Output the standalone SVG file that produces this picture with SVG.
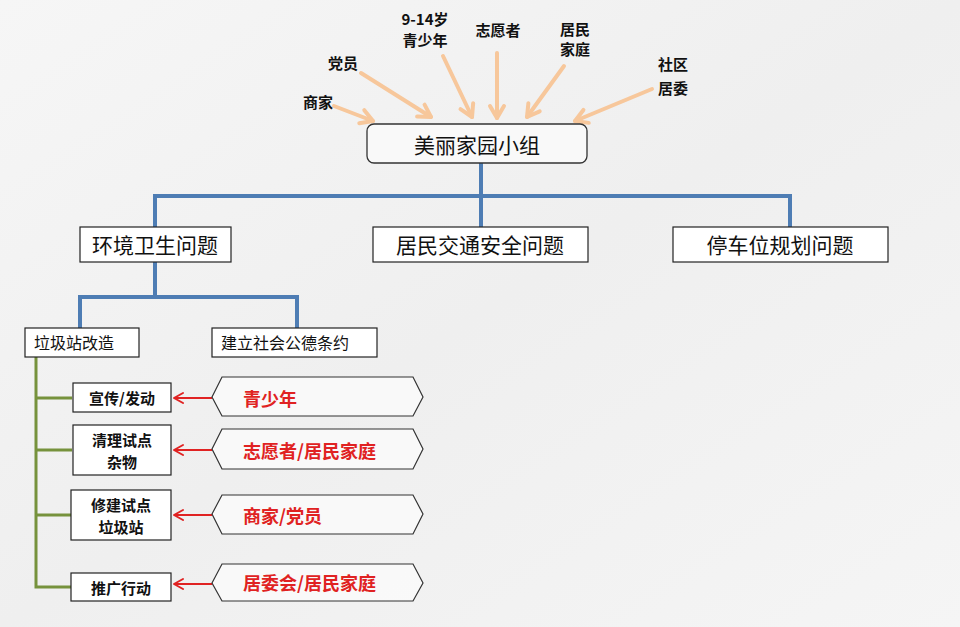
<svg xmlns="http://www.w3.org/2000/svg" width="960" height="627" viewBox="0 0 960 627">
<defs>
<linearGradient id="bg" x1="0" y1="0" x2="1" y2="1">
<stop offset="0" stop-color="#f6f6f6"/>
<stop offset="0.5" stop-color="#efefef"/>
<stop offset="1" stop-color="#f5f5f5"/>
</linearGradient>
<marker id="peach" markerUnits="userSpaceOnUse" viewBox="-16 -10 20 20" refX="0" refY="0" markerWidth="20" markerHeight="20" orient="auto">
<path d="M -12 -7 L 0 0 L -12 7" fill="none" stroke="#F7C79B" stroke-width="4" stroke-linecap="round" stroke-linejoin="round"/>
</marker>
<marker id="red" markerUnits="userSpaceOnUse" viewBox="-12 -8 16 16" refX="0" refY="0" markerWidth="16" markerHeight="16" orient="auto">
<path d="M -9 -5 L 0 0 L -9 5" fill="none" stroke="#E02222" stroke-width="2" stroke-linecap="round" stroke-linejoin="round"/>
</marker>
<style>
.t{font-family:"Noto Sans CJK SC","Noto Sans",sans-serif;fill:#111;dominant-baseline:central}
.lab{font-size:15px;font-weight:bold;text-anchor:middle}
.big{font-size:21px;text-anchor:middle}
.mid{font-size:16px}
.small{font-size:15px;font-weight:bold;text-anchor:middle}
.red{font-size:18px;font-weight:bold;fill:#E02222}
.box{fill:#ffffff;stroke:#222;stroke-width:1.2}
.hex{fill:#ffffff;fill-opacity:0.6;stroke:#333;stroke-width:1.2}
.blue{fill:none;stroke:#4E7DB4;stroke-width:4}
.green{fill:none;stroke:#76923C;stroke-width:3}
.pa{stroke:#F7C79B;stroke-width:4;stroke-linecap:round;fill:none;marker-end:url(#peach)}
.ra{stroke:#E02222;stroke-width:2;fill:none;marker-end:url(#red)}
</style>
</defs>
<rect x="0" y="0" width="960" height="627" fill="url(#bg)"/>

<g id="connectors">
<line class="pa" x1="334" y1="106" x2="373" y2="121"/>
<line class="pa" x1="361" y1="73" x2="431" y2="117"/>
<line class="pa" x1="443" y1="56" x2="472" y2="117"/>
<line class="pa" x1="497" y1="53" x2="497" y2="118"/>
<line class="pa" x1="564" y1="66" x2="527" y2="117"/>
<line class="pa" x1="652" y1="89" x2="575" y2="121"/>
<path class="blue" d="M481 163 V196 M155 229 V196 H790 V228 M481 196 V228"/>
<path class="blue" d="M155 262 V297 M80 330 V297 H297 V330"/>
<path class="green" d="M36 357 V587 H72 M36 398 H72 M36 450 H72 M36 515 H72"/>
<line class="ra" x1="212" y1="398" x2="174" y2="398"/>
<line class="ra" x1="212" y1="450" x2="174" y2="450"/>
<line class="ra" x1="212" y1="515" x2="174" y2="515"/>
<line class="ra" x1="212" y1="584" x2="174" y2="584"/>
</g>

<g id="src-shangjia"><text class="t lab" x="318" y="101">商家</text></g>
<g id="src-dangyuan"><text class="t lab" x="343" y="62">党员</text></g>
<g id="src-qingshaonian"><text class="t lab" x="425" y="18">9-14岁</text><text class="t lab" x="425" y="39">青少年</text></g>
<g id="src-zhiyuanzhe"><text class="t lab" x="498" y="29">志愿者</text></g>
<g id="src-jumin"><text class="t lab" x="575" y="28">居民</text><text class="t lab" x="575" y="48">家庭</text></g>
<g id="src-shequ"><text class="t lab" x="673" y="63">社区</text><text class="t lab" x="673" y="87">居委</text></g>

<g id="root"><rect x="367" y="124" width="220" height="39" rx="7" fill="#f9f9f9" stroke="#333" stroke-width="1.3"/><text class="t big" x="477" y="144">美丽家园小组</text></g>

<g id="n-huanjing"><rect class="box" x="80" y="227" width="151" height="35"/><text class="t big" x="155" y="244">环境卫生问题</text></g>
<g id="n-jiaotong"><rect class="box" x="373" y="227" width="215" height="35"/><text class="t big" x="480" y="244">居民交通安全问题</text></g>
<g id="n-tingche"><rect class="box" x="673" y="227" width="215" height="35"/><text class="t big" x="780" y="244">停车位规划问题</text></g>

<g id="n-lajizhan"><rect class="box" x="25" y="328" width="114" height="29"/><text class="t mid" x="34" y="342">垃圾站改造</text></g>
<g id="n-gongde"><rect class="box" x="212" y="328" width="165" height="29"/><text class="t mid" x="221" y="342">建立社会公德条约</text></g>

<g id="n-xuanchuan"><rect class="box" x="73" y="383" width="98" height="29"/><text class="t small" x="122" y="397">宣传/发动</text></g>
<g id="n-qingli"><rect class="box" x="73" y="425" width="98" height="50"/><text class="t small" x="122" y="439">清理试点</text><text class="t small" x="122" y="461">杂物</text></g>
<g id="n-xiujian"><rect class="box" x="71" y="490" width="100" height="50"/><text class="t small" x="121" y="504">修建试点</text><text class="t small" x="121" y="526">垃圾站</text></g>
<g id="n-tuiguang"><rect class="box" x="71" y="573" width="100" height="28"/><text class="t small" x="121" y="587">推广行动</text></g>

<g id="h-qingshaonian"><path class="hex" d="M212 397 L222 377 H413 L423 397 L413 416 H222 Z"/><text class="t red" x="243" y="398">青少年</text></g>
<g id="h-zhiyuan"><path class="hex" d="M212 449 L222 429 H413 L423 449 L413 469 H222 Z"/><text class="t red" x="243" y="450">志愿者/居民家庭</text></g>
<g id="h-shangjia"><path class="hex" d="M212 514 L222 495 H413 L423 514 L413 534 H222 Z"/><text class="t red" x="243" y="515">商家/党员</text></g>
<g id="h-juweihui"><path class="hex" d="M212 583 L222 564 H413 L423 583 L413 601 H222 Z"/><text class="t red" x="243" y="582">居委会/居民家庭</text></g>
</svg>
